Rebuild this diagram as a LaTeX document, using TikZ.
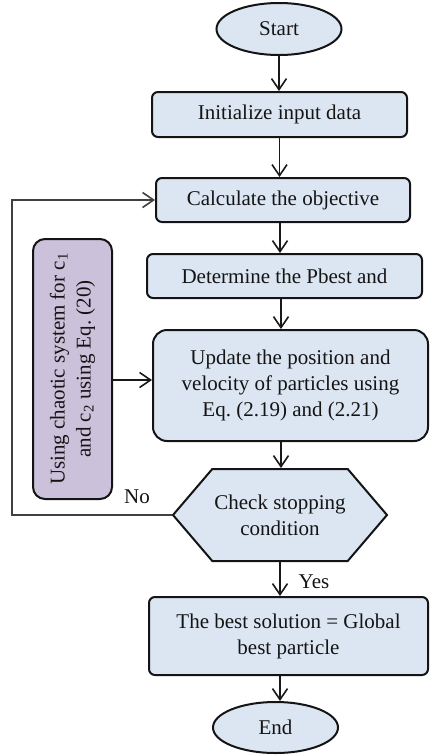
\documentclass[tikz,border=0pt]{standalone}
\usepackage{fontspec}
\setmainfont{Liberation Serif}
\usetikzlibrary{shapes.geometric,shapes.symbols,arrows.meta}
\definecolor{boxblue}{HTML}{DCE6F2}
\definecolor{boxpurple}{HTML}{CCC1DA}
\definecolor{edgecol}{HTML}{141414}
\frenchspacing
\begin{document}
\begin{tikzpicture}[x=1pt,y=-1pt,
  every node/.style={font=\fontsize{21}{26}\selectfont, text=black!92},
  base/.style={draw=edgecol, line width=2pt, fill=boxblue, inner sep=0pt, align=center},
  procbox/.style={base, rounded corners=6pt},
  bigbox/.style={base, rounded corners=14pt},
  term/.style={base, ellipse},
  decide/.style={base, signal, signal to=west and east, signal pointer angle=99},
  sidebox/.style={base, fill=boxpurple, rounded corners=12pt},
  arr/.style={draw=black!90, line width=1.6pt, -{Straight Barb[length=11pt,width=15pt,line width=1.6pt]}},
  lbl/.style={inner sep=0pt}
]
\useasboundingbox (0,0) rectangle (429,756);

\node[term, minimum width=125pt, minimum height=52pt] (start) at (279,29) {Start};
\node[procbox, minimum width=255pt, minimum height=45pt] (init) at (279.5,114.5) {Initialize input data};
\node[procbox, minimum width=254pt, minimum height=44pt] (calc) at (283,200) {Calculate the objective};
\node[procbox, minimum width=275pt, minimum height=44pt] (det) at (284.5,276) {Determine the Pbest and};
\node[bigbox, minimum width=275pt, minimum height=111pt] (upd) at (290.5,385.5) {Update the position and\\velocity of particles using\\Eq. (2.19) and (2.21)};
\node[decide, minimum width=214pt, minimum height=92pt] (chk) at (280,515) {Check stopping\\condition};
\node[procbox, minimum width=279pt, minimum height=78pt] (best) at (288.5,636) {The best solution = Global\\best particle};
\node[term, minimum width=125pt, minimum height=51pt] (end) at (275.5,727.5) {End};
\node[sidebox, rotate=90, minimum width=260pt, minimum height=79pt] (side) at (72.5,369) {Using chaotic system for c\textsubscript{1}\\and c\textsubscript{2} using Eq. (20)};

\node[lbl] (no) at (137,497) {No};
\node[lbl] (yes) at (314,582) {Yes};

\draw[arr] (start.south) -- (start.south |- init.north);
\draw[arr] (init.south) -- (init.south |- calc.north);
\draw[arr] ([xshift=-3pt]calc.south) -- ([xshift=-3pt]calc.south |- det.north);
\draw[arr] ([xshift=-3.5pt]det.south) -- ([xshift=-3.5pt]det.south |- upd.north);
\draw[arr] ([xshift=-9.5pt]upd.south) -- ([xshift=-9.5pt]upd.south |- chk.north);
\draw[arr] (chk.south) -- (chk.south |- best.north);
\draw[arr] ([xshift=-8.5pt]best.south) -- ([xshift=-8.5pt]best.south |- end.north);

\coordinate (m) at ([yshift=5.5pt]upd.west);
\draw[arr] (side.south |- m) -- (m);

\coordinate (lp) at (12,515);
\draw[arr, draw=black!75, line width=1.3pt] (chk.west) -- (lp) |- (calc.west);
\end{tikzpicture}
\end{document}
